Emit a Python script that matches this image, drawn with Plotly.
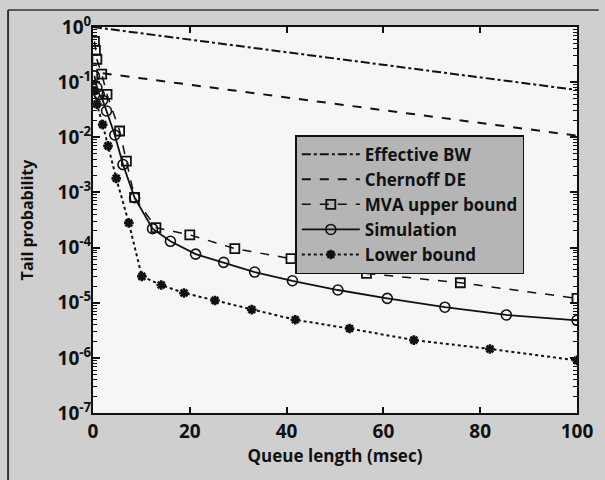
import plotly.graph_objects as go

# ---- data ----
ebw_x = [0, 100]
ebw_y = [1.0, 0.072]

cher_x = [2, 100]
cher_y = [0.145, 0.0107]

mva_x = [0.3, 0.5, 0.8, 1.8, 2.9, 5.5, 6.9, 8.6, 13, 20, 29.3, 40.9, 56.5, 75.9, 100]
mva_y = [0.55, 0.38, 0.26, 0.14, 0.06, 0.013, 0.0037, 8.1e-4, 2.3e-4, 1.7e-4,
         9.6e-5, 6.3e-5, 3.4e-5, 2.3e-5, 1.2e-5]

sim_x = [0.3, 0.8, 1.3, 2.0, 2.8, 4.5, 6.2, 8.6, 12.3, 16, 21.2, 27, 33.4, 41.2,
         50.6, 60.8, 72.7, 85.4, 100]
sim_y = [0.13, 0.08, 0.06, 0.047, 0.03, 0.011, 0.0032, 8e-4, 2.2e-4, 1.3e-4,
         7.6e-5, 5.4e-5, 3.6e-5, 2.5e-5, 1.7e-5, 1.2e-5, 8.3e-6, 6e-6, 4.8e-6]

low_x = [0.3, 0.8, 2, 3.1, 4.8, 7.4, 10.1, 14.1, 18.8, 25.2, 32.8, 41.8, 53, 66.3, 82, 100]
low_y = [0.07, 0.04, 0.017, 0.007, 0.0018, 2.8e-4, 3e-5, 2.1e-5, 1.5e-5, 1.1e-5,
         7.5e-6, 4.9e-6, 3.4e-6, 2.1e-6, 1.45e-6, 9e-7]

x_ticks = [0, 20, 40, 60, 80, 100]
y_tick_vals = [1, 1e-1, 1e-2, 1e-3, 1e-4, 1e-5, 1e-6, 1e-7]
y_tick_text = ["<b>10<sup>0</sup></b>", "<b>10<sup>-1</sup></b>", "<b>10<sup>-2</sup></b>",
               "<b>10<sup>-3</sup></b>", "<b>10<sup>-4</sup></b>", "<b>10<sup>-5</sup></b>",
               "<b>10<sup>-6</sup></b>", "<b>10<sup>-7</sup></b>"]

FONT = "Open Sans"
BLACK = "#111111"

fig = go.Figure()
fig.add_trace(go.Scatter(x=ebw_x, y=ebw_y, mode="lines", name="<b>Effective BW</b>",
                         line=dict(color=BLACK, width=2, dash="dashdot")))
fig.add_trace(go.Scatter(x=cher_x, y=cher_y, mode="lines", name="<b>Chernoff DE</b>",
                         line=dict(color=BLACK, width=2, dash="dash")))
fig.add_trace(go.Scatter(x=mva_x, y=mva_y, mode="lines+markers", name="<b>MVA upper bound</b>",
                         line=dict(color=BLACK, width=1.5, dash="dash"),
                         marker=dict(symbol="square-open", size=9, color=BLACK,
                                     line=dict(width=1.8, color=BLACK))))
fig.add_trace(go.Scatter(x=sim_x, y=sim_y, mode="lines+markers", name="<b>Simulation</b>",
                         line=dict(color=BLACK, width=1.8),
                         marker=dict(symbol="circle-open", size=10, color=BLACK,
                                     line=dict(width=1.6, color=BLACK))))
fig.add_trace(go.Scatter(x=low_x, y=low_y, mode="lines+markers", name="<b>Lower bound</b>",
                         line=dict(color=BLACK, width=2, dash="dot"),
                         marker=dict(symbol="asterisk-open", size=8, color=BLACK,
                                     line=dict(width=2.6, color=BLACK))))

fig.update_layout(
    width=605, height=480,
    margin=dict(l=93, r=22, t=23, b=67),
    paper_bgcolor="#cfcfcf",
    plot_bgcolor="#f6f6f6",
    font=dict(family=FONT, color=BLACK, size=15),
    showlegend=True,
    legend=dict(x=0.418, y=0.72, xanchor="left", yanchor="top",
                bgcolor="#b5b5b5", bordercolor=BLACK, borderwidth=1.5,
                font=dict(family=FONT, size=17, color=BLACK),
                tracegroupgap=0, itemwidth=58),
    xaxis=dict(range=[0, 100], tickvals=x_ticks,
               ticktext=["<b>%d</b>" % v for v in x_ticks],
               ticks="inside", ticklen=6, tickwidth=1.5, tickcolor=BLACK,
               showline=True, linecolor=BLACK, linewidth=2, mirror="ticks",
               showgrid=False, zeroline=False,
               tickfont=dict(size=19, family=FONT),
               title=dict(text="<b>Queue length (msec)</b>", standoff=0,
                          font=dict(size=17, family=FONT))),
    yaxis=dict(type="log", range=[-7, 0], tickvals=y_tick_vals, ticktext=y_tick_text,
               ticks="inside", ticklen=7, tickwidth=1.5, tickcolor=BLACK,
               showline=True, linecolor=BLACK, linewidth=2, mirror="ticks",
               showgrid=False, zeroline=False,
               minor=dict(ticks="inside", ticklen=4, tickwidth=1, tickcolor=BLACK,
                          dtick="D1", showgrid=False),
               tickfont=dict(size=19, family=FONT),
               ticklabelstandoff=-4,
               title=dict(text="<b>Tail probability</b>", standoff=20,
                          font=dict(size=16, family=FONT))),
    shapes=[
        dict(type="line", xref="paper", yref="paper", x0=-0.1755, x1=-0.1755,
             y0=1.044, y1=-0.2, line=dict(color="#333333", width=2)),
        dict(type="line", xref="paper", yref="paper", x0=-0.1755, x1=1.045,
             y0=1.044, y1=1.044, line=dict(color="#333333", width=1.5)),
    ],
)

fig.write_html("out.html")
